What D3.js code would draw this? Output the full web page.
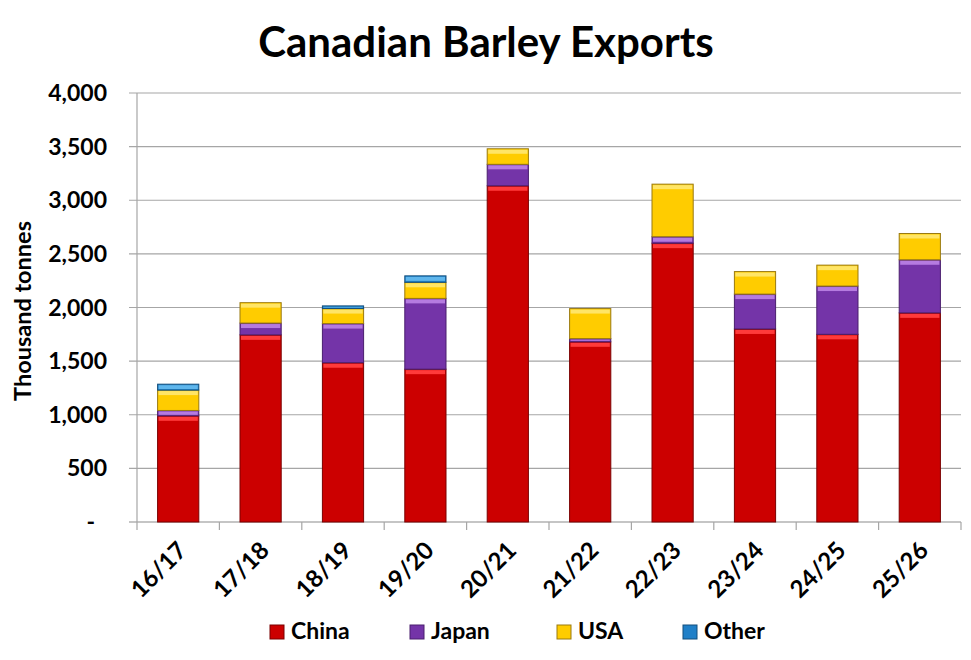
<!DOCTYPE html>
<html>
<head>
<meta charset="utf-8">
<script src="https://cdn.jsdelivr.net/npm/d3@7"></script>
<style>
  body { margin: 0; background: #fff; }
  text { font-family: Lato, "Open Sans", sans-serif; font-weight: bold; fill: #000; }
</style>
</head>
<body>
<div id="chart"></div>
<script>
// Data (thousand tonnes)
const seasons = ["16/17", "17/18", "18/19", "19/20", "20/21", "21/22", "22/23", "23/24", "24/25", "25/26"];
const china = [990, 1745, 1485, 1425, 3135, 1680, 2600, 1800, 1750, 1950];
const japan = [50, 110, 365, 660, 200, 30, 60, 325, 450, 495];
const usa = [190, 190, 140, 150, 145, 280, 490, 210, 195, 245];
const other = [55, 0, 25, 60, 0, 0, 0, 0, 0, 0];
const seriesNames = ["China", "Japan", "USA", "Other"];
const yTicks = [0, 500, 1000, 1500, 2000, 2500, 3000, 3500, 4000];

// Colours: base, top highlight, outline
const colors = {
    China: ["#cc0000", "#ff3a3a", "#7a0000"],
    Japan: ["#7434a8", "#b57be0", "#4a1f6e"],
    USA: ["#ffcc00", "#ffe566", "#9a7a10"],
    Other: ["#2080c8", "#5fb6ec", "#134f7c"]
};

const fullWidth = 971, fullHeight = 660;
const margin = { top: 93, left: 137 },
    width = 824,             // plot ends at x = 961
    height = 522 - margin.top;

const svg = d3.select("#chart")
    .append("svg")
    .attr("width", fullWidth)
    .attr("height", fullHeight);

const g = svg.append("g")
    .attr("transform", "translate(" + margin.left + "," + margin.top + ")");

// build rows for the stack
const rows = seasons.map((s, i) => ({
    season: s, China: china[i], Japan: japan[i], USA: usa[i], Other: other[i]
}));
const stacked = d3.stack().keys(seriesNames)(rows);

const x = d3.scaleBand()
    .domain(seasons)
    .range([0, width])
    .paddingInner(0.5)
    .paddingOuter(0.25);

const y = d3.scaleLinear()
    .domain([0, 4000])
    .range([height, 0]);

// gridlines (with tick stubs to the left of the axis)
g.selectAll(".grid")
    .data(yTicks)
    .join("line")
    .attr("class", "grid")
    .attr("x1", -8)
    .attr("x2", width)
    .attr("y1", d => y(d))
    .attr("y2", d => y(d))
    .attr("stroke", d => d === 0 ? "#8c8c8c" : "#a6a6a6")
    .attr("stroke-width", 1.2);

// y axis line
g.append("line")
    .attr("x1", 0).attr("x2", 0)
    .attr("y1", y(4000)).attr("y2", y(0))
    .attr("stroke", "#a6a6a6")
    .attr("stroke-width", 1.2);

// x tick marks at category boundaries
const boundaries = seasons.map(s => x(s) - x.step() * x.paddingInner() / 2).concat([width]);
g.selectAll(".xtick")
    .data(boundaries)
    .join("line")
    .attr("class", "xtick")
    .attr("x1", d => d).attr("x2", d => d)
    .attr("y1", height).attr("y2", height + 8)
    .attr("stroke", "#a6a6a6")
    .attr("stroke-width", 1.2);

// y tick labels
g.selectAll(".ylabel")
    .data(yTicks)
    .join("text")
    .attr("class", "ylabel")
    .attr("x", d => d === 0 ? -42 : -30)
    .attr("y", d => y(d))
    .attr("dy", "0.35em")
    .attr("text-anchor", "end")
    .style("font-size", "23px")
    .text(d => d === 0 ? "-" : d3.format(",")(d));

// x labels, rotated
g.selectAll(".xlabel")
    .data(seasons)
    .join("text")
    .attr("class", "xlabel")
    .attr("text-anchor", "end")
    .attr("transform", d => "translate(" + (x(d) + x.bandwidth() / 2 + 10) + "," + (height + 30) + ") rotate(-45)")
    .style("font-size", "24px")
    .text(d => d);

// y axis title
svg.append("text")
    .attr("text-anchor", "middle")
    .attr("transform", "translate(31,311) rotate(-90)")
    .style("font-size", "23.5px")
    .text("Thousand tonnes");

// title
svg.append("text")
    .attr("x", 486)
    .attr("y", 57)
    .attr("text-anchor", "middle")
    .style("font-size", "42px")
    .text("Canadian Barley Exports");

// bars
const layers = g.selectAll(".layer")
    .data(stacked)
    .join("g")
    .attr("class", "layer");

const segs = layers.selectAll(".seg")
    .data(d => d.map(v => ({ key: d.key, v: v })).filter(o => o.v[1] - o.v[0] > 0))
    .join("g")
    .attr("class", "seg");

segs.append("rect")
    .attr("x", d => x(d.v.data.season))
    .attr("y", d => y(d.v[1]))
    .attr("width", x.bandwidth())
    .attr("height", d => y(d.v[0]) - y(d.v[1]))
    .attr("fill", d => colors[d.key][0])
    .attr("stroke", d => colors[d.key][2])
    .attr("stroke-width", 1);

segs.append("rect")
    .attr("x", d => x(d.v.data.season) + 1)
    .attr("y", d => y(d.v[1]) + 1)
    .attr("width", x.bandwidth() - 2)
    .attr("height", d => Math.min(4, Math.max(0, y(d.v[0]) - y(d.v[1]) - 2)))
    .attr("fill", d => colors[d.key][1]);

// legend
const legendX = [270, 410, 557, 683];
const legend = svg.selectAll(".legend")
    .data(seriesNames)
    .join("g")
    .attr("class", "legend")
    .attr("transform", (d, i) => "translate(" + legendX[i] + ",625)");

legend.append("rect")
    .attr("width", 14)
    .attr("height", 14)
    .attr("fill", d => colors[d][0])
    .attr("stroke", d => colors[d][2])
    .attr("stroke-width", 1);

legend.append("text")
    .attr("x", 21)
    .attr("y", 14)
    .style("font-size", "23px")
    .text(d => d);
</script>
</body>
</html>
